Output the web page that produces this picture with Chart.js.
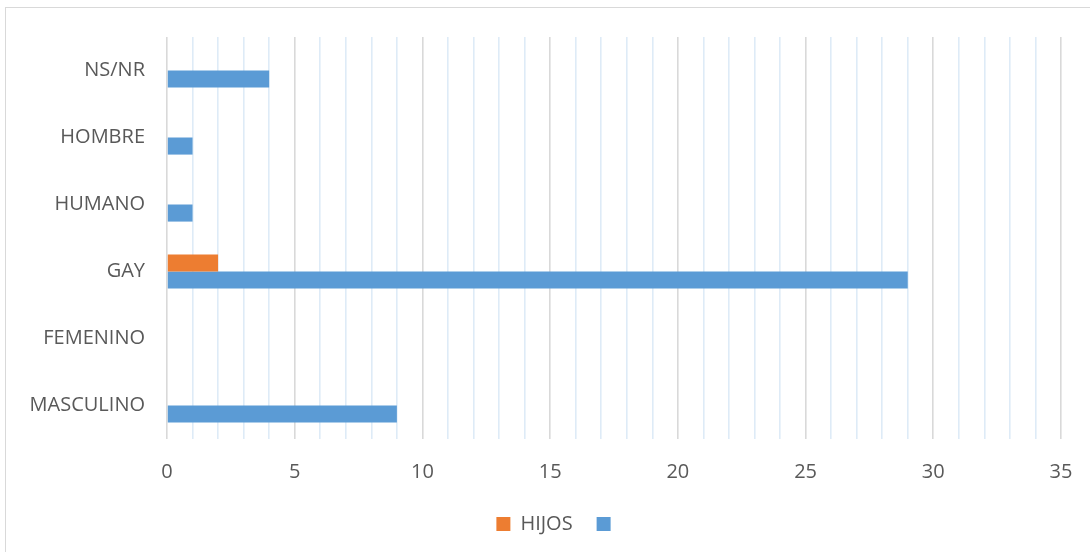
<!DOCTYPE html>
<html>
<head>
<meta charset="utf-8">
<script src="https://cdn.jsdelivr.net/npm/chart.js@4"></script>
<style>
    html, body { margin: 0; padding: 0; background: #fff; overflow: hidden; }
    #wrap { position: relative; width: 1090px; height: 552px; }
    #frame { position: absolute; left: 5px; top: 7px; width: 1100px; height: 560px; border: 1.5px solid #d9d9d9; box-sizing: border-box; }
    #wrap canvas { position: absolute; left: 0; top: 0; }
</style>
</head>
<body>
<div id="wrap">
    <div id="frame"></div>
    <canvas id="barChart" width="1090" height="552"></canvas>
</div>
<script>
// 카테고리 (위에서 아래 순서)
const categories = ["NS/NR", "HOMBRE", "HUMANO", "GAY", "FEMENINO", "MASCULINO"];
const hijosValues = [0, 0, 0, 2, 0, 0];
const otrosValues = [4, 1, 1, 29, 0, 9];
const xMin = 0;
const xMax = 35;

const fontFamily = "'Open Sans', 'Liberation Sans', sans-serif";
const textColor = "#595959";
const legendShift = 28; // 범례를 오른쪽으로 이동

// 범례 위치 보정용 플러그인
const shiftLegend = {
    id: "shiftLegend",
    afterLayout(chart) {
        if (chart.legend) {
            chart.legend.left += legendShift;
            chart.legend.right += legendShift;
        }
    }
};

let ctx = document.getElementById("barChart").getContext("2d");
let barChart = new Chart(ctx, {
    type: "bar",
    data: {
        labels: categories,
        datasets: [{
            label: "HIJOS",
            data: hijosValues,
            backgroundColor: "#ed7d31",
            categoryPercentage: 0.51,
            barPercentage: 1
        }, {
            label: "",
            data: otrosValues,
            backgroundColor: "#5b9bd5",
            categoryPercentage: 0.51,
            barPercentage: 1
        }]
    },
    options: {
        indexAxis: "y",
        responsive: false,
        animation: false,
        layout: { padding: { top: 37, right: 29, left: 0, bottom: 8 } },
        scales: {
            x: {
                min: xMin,
                max: xMax,
                border: { display: false },
                grid: {
                    drawTicks: false,
                    lineWidth: 1.6,
                    color: c => (c.tick && c.tick.value % 5 === 0) ? "#d9d9d9" : "#deebf7"
                },
                ticks: {
                    stepSize: 1,
                    autoSkip: false,
                    maxRotation: 0,
                    padding: 21,
                    color: textColor,
                    font: { family: fontFamily, size: 20 },
                    callback: v => (v % 5 === 0 ? v : "")
                },
                afterFit: scale => {
                    scale.height = 51;
                    scale.paddingLeft = 0;
                    scale.paddingRight = 0;
                }
            },
            y: {
                border: { display: false },
                grid: { display: false, drawTicks: false },
                ticks: {
                    padding: 22,
                    color: textColor,
                    font: { family: fontFamily, size: 20 }
                },
                afterFit: scale => { scale.width = 167; }
            }
        },
        plugins: {
            legend: {
                position: "bottom",
                labels: {
                    boxWidth: 14,
                    boxHeight: 14,
                    padding: 24,
                    color: textColor,
                    font: { family: fontFamily, size: 20 }
                }
            },
            tooltip: { enabled: false }
        }
    },
    plugins: [shiftLegend]
});
</script>
</body>
</html>
